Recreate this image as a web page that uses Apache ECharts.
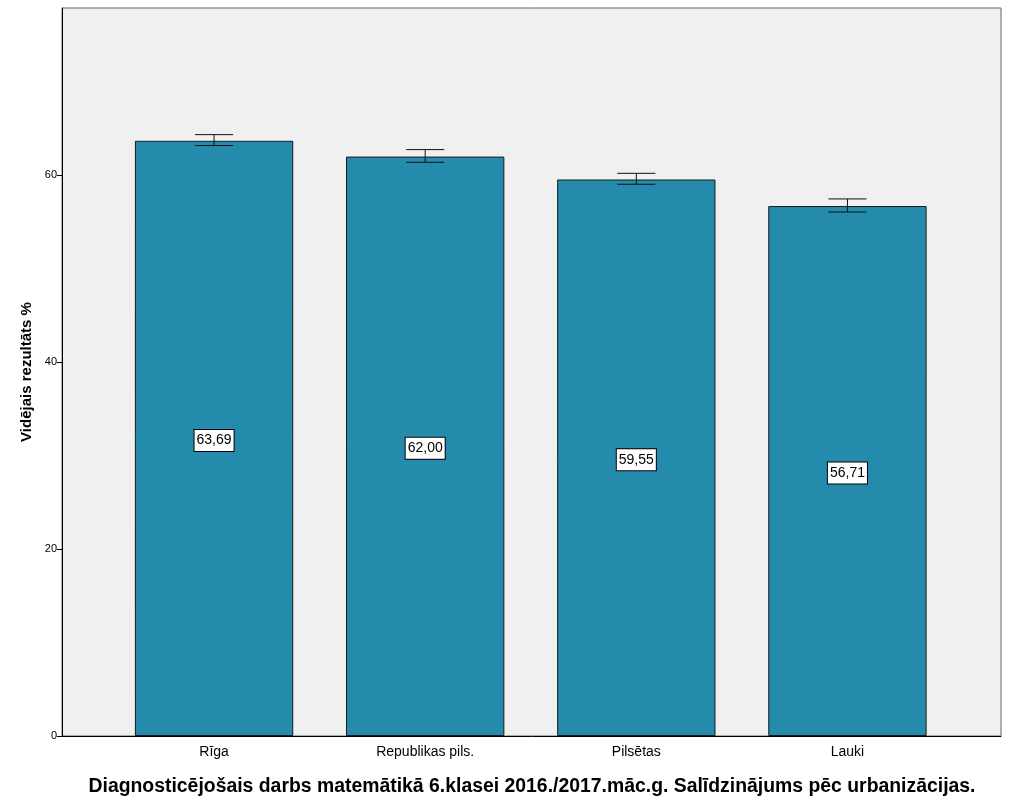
<!DOCTYPE html>
<html>
<head>
<meta charset="utf-8">
<script src="https://cdn.jsdelivr.net/npm/echarts@6/dist/echarts.min.js"></script>
<style>
html,body{margin:0;padding:0;background:#fff;}
#c{width:1011px;height:809px;}
</style>
</head>
<body>
<div id="c"></div>
<script>
var categories = ['Rīga', 'Republikas pils.', 'Pilsētas', 'Lauki'];
var means = [63.69, 62.00, 59.55, 56.71];
var errLow = [63.18, 61.39, 59.04, 56.07];
var errHigh = [64.35, 62.75, 60.21, 57.47];
var yTicks = [0, 20, 40, 60];
var yMax = 77.9;

var chart = echarts.init(document.getElementById('c'));
var font = 'Arial, "Liberation Sans", sans-serif';
chart.setOption({
  backgroundColor: '#ffffff',
  animation: false,
  title: {
    text: 'Diagnosticējošais darbs matemātikā 6.klasei 2016./2017.māc.g. Salīdzinājums pēc urbanizācijas.',
    left: 527,
    textAlign: 'center',
    top: 772,
    textStyle: {fontFamily: font, fontSize: 19.4, fontWeight: 'bold', color: '#000'}
  },
  grid: [
    {left: 62, right: 10, top: 8, bottom: 73,
     show: true, backgroundColor: '#F0F0F0', borderColor: '#666', borderWidth: 1},
    {left: 108.5, right: 58, top: 8, bottom: 73}
  ],
  xAxis: [
    {
      type: 'value', gridIndex: 0, min: 0, max: 1,
      axisLine: {show: true, lineStyle: {color: '#000', width: 1}},
      axisTick: {show: false}, axisLabel: {show: false}, splitLine: {show: false}
    },
    {
      type: 'category', gridIndex: 1,
      data: categories,
      axisLine: {show: false},
      axisTick: {alignWithLabel: true, length: 6, lineStyle: {color: '#000'}},
      axisLabel: {fontFamily: font, fontSize: 14, color: '#000', margin: 9}
    }
  ],
  yAxis: [
    {
      type: 'value', gridIndex: 0,
      min: 0, max: yMax, interval: 20,
      name: 'Vidējais rezultāts %',
      nameLocation: 'middle',
      nameGap: 27,
      nameTextStyle: {fontFamily: font, fontSize: 15, fontWeight: 'bold', color: '#000'},
      splitLine: {show: false},
      axisLine: {show: true, lineStyle: {color: '#000', width: 1}},
      axisTick: {show: true, length: 5, lineStyle: {color: '#000'}, customValues: yTicks},
      axisLabel: {fontFamily: font, fontSize: 11, color: '#000', margin: 5, customValues: yTicks}
    },
    {
      type: 'value', gridIndex: 1, min: 0, max: yMax, show: false
    }
  ],
  series: [
    {
      type: 'bar',
      xAxisIndex: 1, yAxisIndex: 1,
      data: means,
      barCategoryGap: '25%',
      itemStyle: {color: '#248BAD', borderColor: '#1a1a1a', borderWidth: 1},
      label: {
        show: true, position: 'inside', offset: [0, 2],
        formatter: function (p) { return p.value.toFixed(2).replace('.', ','); },
        fontFamily: font, fontSize: 14, color: '#000',
        backgroundColor: '#fff', borderColor: '#000', borderWidth: 1,
        padding: [4, 2, 3, 2]
      }
    },
    {
      type: 'custom',
      xAxisIndex: 1, yAxisIndex: 1,
      z: 5,
      data: categories.map(function (c, i) { return [i, errLow[i], errHigh[i]]; }),
      renderItem: function (params, api) {
        var i = api.value(0);
        var lo = api.coord([i, api.value(1)]);
        var hi = api.coord([i, api.value(2)]);
        var hw = 19;
        var st = {stroke: '#111', lineWidth: 1};
        return {
          type: 'group',
          children: [
            {type: 'line', shape: {x1: lo[0], y1: lo[1], x2: hi[0], y2: hi[1]}, style: st},
            {type: 'line', shape: {x1: lo[0] - hw, y1: lo[1], x2: lo[0] + hw, y2: lo[1]}, style: st},
            {type: 'line', shape: {x1: hi[0] - hw, y1: hi[1], x2: hi[0] + hw, y2: hi[1]}, style: st}
          ]
        };
      }
    }
  ]
});
</script>
</body>
</html>
